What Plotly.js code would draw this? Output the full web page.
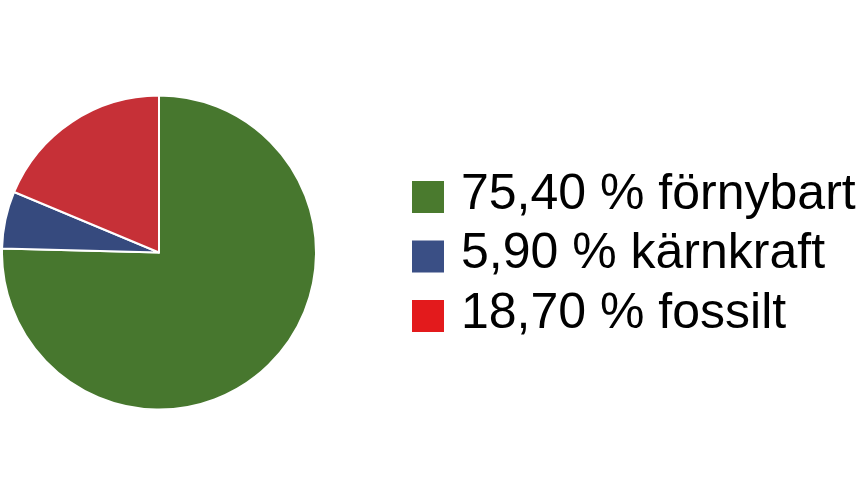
<!DOCTYPE html>
<html><head><meta charset="utf-8">
<script src="https://cdn.plot.ly/plotly-3.0.1.min.js"></script>
<style>html,body{margin:0;padding:0;background:#fff}#chart{width:861px;height:484px}</style>
</head><body><div id="chart"></div>
<script>
const categories = ["förnybart", "kärnkraft", "fossilt"];
const values = [75.40, 5.90, 18.70];
const valueLabels = ["75,40", "5,90", "18,70"];
const pieColors = ["#47772e", "#364a7e", "#c63037"];
const legendColors = ["#4a7a2e", "#3a4f85", "#e31a1c"];

const W = 861, H = 484;
const shapes = [], annotations = [];
const legendTop = 181, step = 59.5, sq = 32, sqX = 412, textX = 459;
categories.forEach((c, i) => {
  const y0 = legendTop + i * step;
  shapes.push({type: "rect", xref: "paper", yref: "paper",
    x0: sqX / W, x1: (sqX + sq) / W, y0: 1 - (y0 + sq) / H, y1: 1 - y0 / H,
    fillcolor: legendColors[i], line: {width: 0}});
  annotations.push({xref: "paper", yref: "paper", x: textX / W, y: 1 - (y0 + sq / 2 - 5) / H,
    xanchor: "left", yanchor: "middle", showarrow: false,
    text: valueLabels[i] + " % " + c,
    font: {family: "Liberation Sans, Arial, sans-serif", size: 50, color: "#000"}});
});

Plotly.newPlot("chart", [{
  type: "pie", labels: categories, values: values, sort: false,
  direction: "clockwise", rotation: 0, textinfo: "none", hoverinfo: "none",
  marker: {colors: pieColors, line: {color: "#ffffff", width: 2}},
  domain: {x: [2 / W, 316 / W], y: [(H - 410) / H, (H - 95) / H]}
}], {
  width: W, height: H, margin: {l: 0, r: 0, t: 0, b: 0},
  paper_bgcolor: "#fff", plot_bgcolor: "#fff", showlegend: false,
  shapes: shapes, annotations: annotations
}, {displayModeBar: false, staticPlot: true});
</script></body></html>
